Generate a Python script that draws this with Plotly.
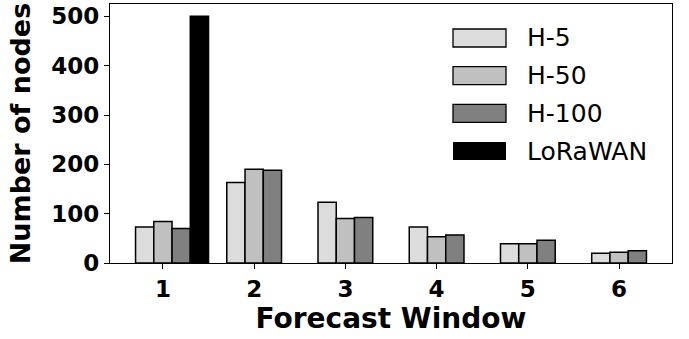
import plotly.graph_objects as go

windows = [1, 2, 3, 4, 5, 6]
h5 = [73, 163, 123, 73, 39, 20]
h50 = [84, 190, 90, 53, 39, 22]
h100 = [70, 188, 92, 57, 46, 25]
lorawan_x = [1]
lorawan = [500]
tick_labels = ["1", "2", "3", "4", "5", "6"]
series_names = ["H-5", "H-50", "H-100", "LoRaWAN"]
colors = ["#dcdcdc", "#c0c0c0", "#808080", "#000000"]

fig = go.Figure()
series = [(windows, h5), (windows, h50), (windows, h100), (lorawan_x, lorawan)]
offsets = [-0.3, -0.1, 0.1, 0.3]
for (xs, ys), name, col, off in zip(series, series_names, colors, offsets):
    fig.add_trace(go.Bar(
        x=xs, y=ys, name=name, width=0.2, offset=off,
        marker=dict(color=col, line=dict(color="black", width=1.5)),
        showlegend=False,
    ))

# legend drawn as patches + text (matplotlib-style big patches)
L, R, T, B = 110, 672, 4, 263
W, H = R - L, B - T
def px(x):
    return (x - L) / W
def py(y):
    return (B - y) / H
row_centers = [38, 75.7, 113.3, 151]
shapes = []
annotations = []
for name, col, c in zip(series_names, colors, row_centers):
    shapes.append(dict(type="rect", xref="paper", yref="paper",
                       x0=px(453), x1=px(506), y0=py(c + 9), y1=py(c - 9),
                       fillcolor=col, line=dict(color="black", width=1.3 if col != "#000000" else 0)))
    annotations.append(dict(xref="paper", yref="paper", x=px(525), y=py(c),
                            text=name, showarrow=False, xanchor="left", yanchor="middle",
                            font=dict(family="DejaVu Sans", size=25, color="black")))

fig.update_layout(
    width=689, height=339,
    margin=dict(l=110, r=17, t=4, b=76, autoexpand=False),
    paper_bgcolor="white", plot_bgcolor="white",
    barmode="overlay",
    shapes=shapes, annotations=annotations,
    font=dict(family="DejaVu Sans", color="black"),
)
fig.update_xaxes(
    range=[0.42, 6.58], tickvals=windows, ticktext=tick_labels,
    showline=True, linecolor="black", linewidth=1.3, mirror=True,
    ticks="outside", ticklen=5, tickwidth=1.3, tickcolor="black",
    showgrid=False, zeroline=False, automargin=False,
    tickfont=dict(family="DejaVu Sans", size=23, weight="bold"),
    title=dict(text="<b>Forecast Window</b>", font=dict(family="DejaVu Sans", size=28), standoff=2),
)
fig.update_yaxes(
    range=[0, 525], tickvals=[0, 100, 200, 300, 400, 500],
    showline=True, linecolor="black", linewidth=1.3, mirror=True,
    ticks="outside", ticklen=5, tickwidth=1.3, tickcolor="black",
    showgrid=False, zeroline=False, automargin=False,
    tickfont=dict(family="DejaVu Sans", size=23, weight="bold"),
    title=dict(text="<b>Number of nodes</b>", font=dict(family="DejaVu Sans", size=27), standoff=12),
)

fig.write_html("out.html", config={"displayModeBar": False},
               post_script="document.body.style.margin='0';document.body.style.overflow='hidden';")
